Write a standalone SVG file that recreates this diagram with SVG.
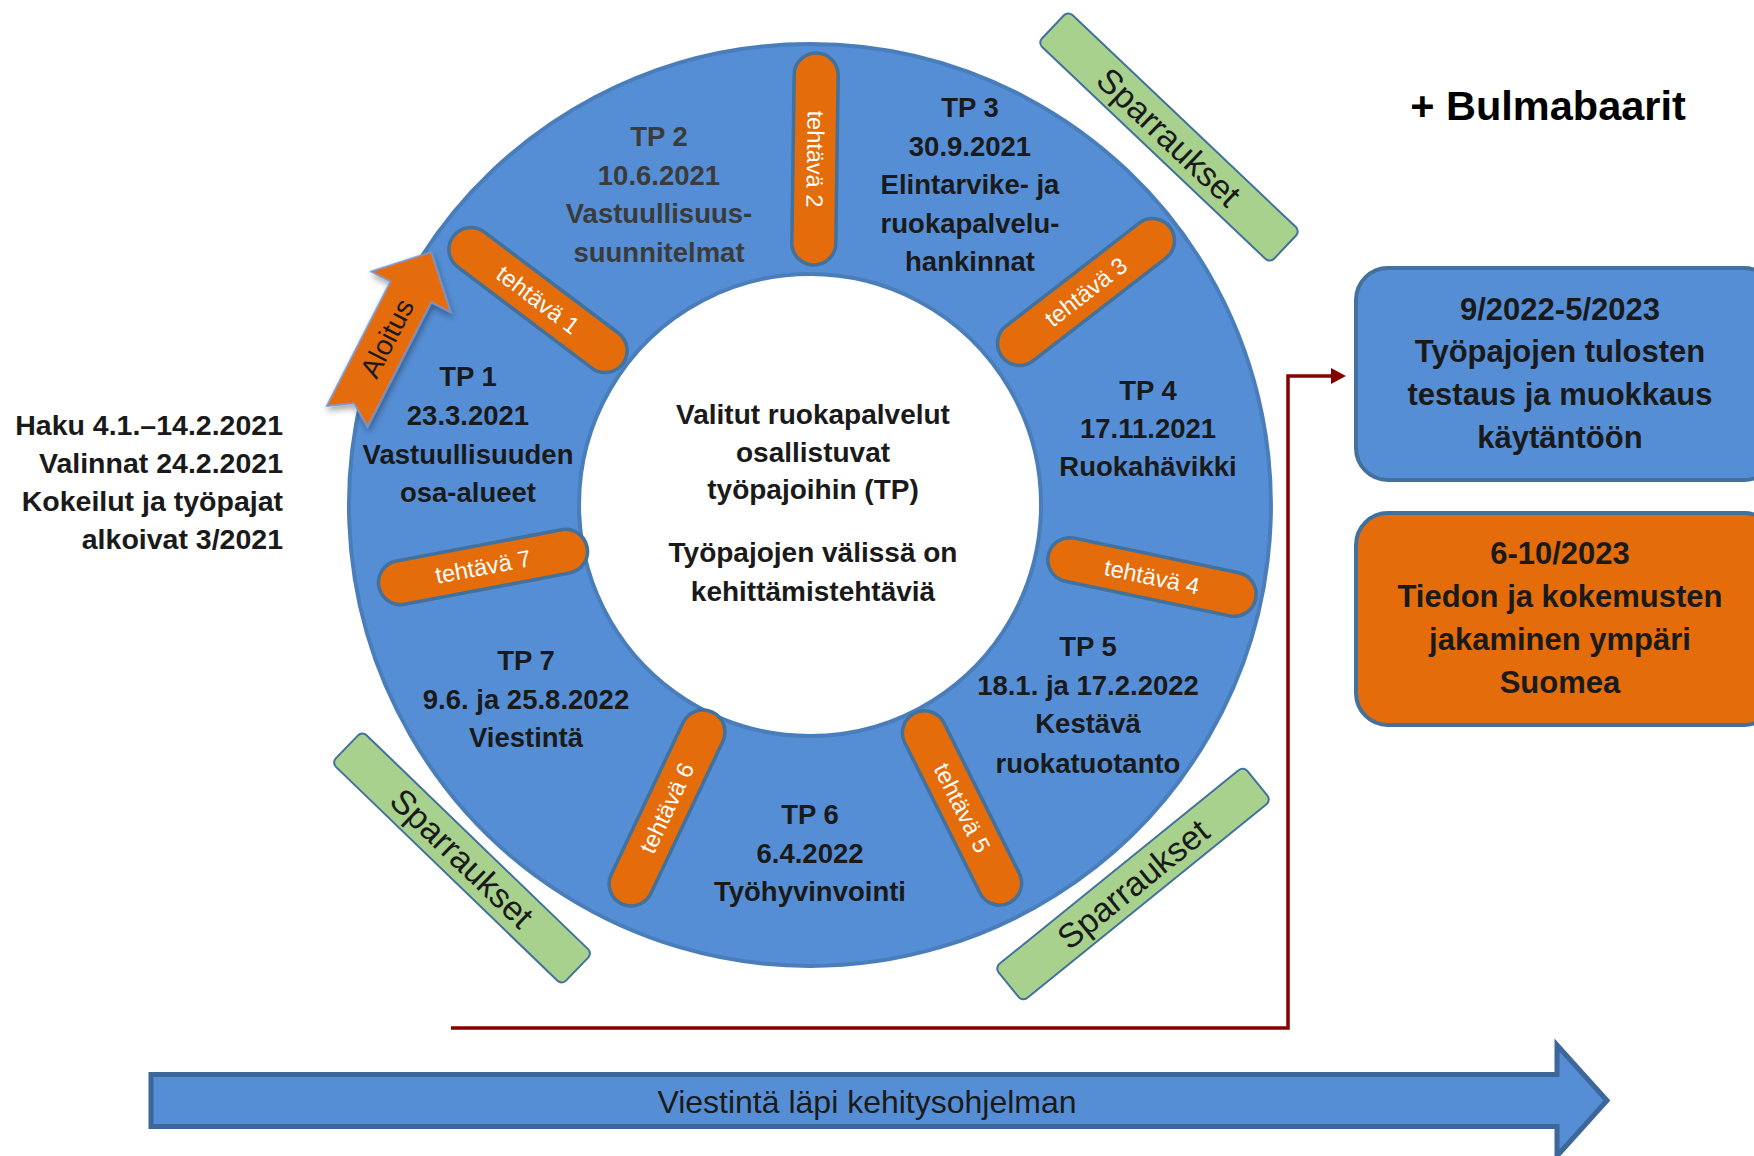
<svg xmlns="http://www.w3.org/2000/svg" width="1754" height="1156" viewBox="0 0 1754 1156">
<defs>
<style>
.t{font-family:"Liberation Sans",Arial,sans-serif;font-weight:bold;font-size:27.5px;fill:#1a1a1a;text-anchor:middle}
.pill rect{fill:#E46C0A;stroke:#41719C;stroke-width:3.5}
.pill text{font-family:"Liberation Sans",Arial,sans-serif;font-size:23.5px;fill:#ffffff;text-anchor:middle;dominant-baseline:central}
.spar rect{fill:#A9D18E;stroke:#41719C;stroke-width:2}
.spar text{font-family:"Liberation Sans",Arial,sans-serif;font-size:34px;fill:#1a1a1a;text-anchor:middle;dominant-baseline:central}
.box{stroke:#41719C;stroke-width:4}
</style>
<marker id="ah" markerUnits="userSpaceOnUse" markerWidth="16" markerHeight="16" viewBox="0 0 16 16" refX="1" refY="8" orient="auto">
<path d="M0,0 L15,8 L0,16 Z" fill="#860000"/>
</marker>
<filter id="sh" x="-30%" y="-30%" width="160%" height="160%">
<feDropShadow dx="-3" dy="3" stdDeviation="3" flood-color="#000" flood-opacity="0.35"/>
</filter>
</defs>
<rect width="1754" height="1156" fill="#ffffff"/>

<g id="connectors">
<path d="M451,1028 H1288 V376 H1332" fill="none" stroke="#860000" stroke-width="3.5" marker-end="url(#ah)"/>
</g>

<g id="bottom-arrow">
<path d="M151,1074.5 H1557 V1045 L1607,1100.5 L1557,1156 V1126.5 H151 Z" fill="#558ED5" stroke="#3D6699" stroke-width="5"/>
<text x="867" y="1113" style="font-family:'Liberation Sans',Arial,sans-serif;font-size:32px;fill:#1a1a1a;text-anchor:middle">Viestintä läpi kehitysohjelman</text>
</g>

<g id="ring">
<path d="M810,44 A461,461 0 1,1 809.9,44 Z M810,274 A231,231 0 1,0 810.1,274 Z" fill="#558ED5" fill-rule="evenodd" stroke="#4A7EBB" stroke-width="4"/>
</g>

<g id="aloitus" transform="translate(347.1,416.6) rotate(-62.9)">
<path d="M0,-23 L140,-23 L140,-45 L185,0 L140,45 L140,23 L0,23 L15,0 Z" fill="#E46C0A" stroke="#6A9BD8" stroke-width="1.5" filter="url(#sh)"/>
<text x="88" y="0" style="font-family:'Liberation Sans',Arial,sans-serif;font-size:28px;fill:#1a1a1a;text-anchor:middle;dominant-baseline:central">Aloitus</text>
</g>

<g id="tp1"><text class="t"><tspan x="468" y="386">TP 1</tspan><tspan x="468" y="425">23.3.2021</tspan><tspan x="468" y="464">Vastuullisuuden</tspan><tspan x="468" y="502">osa-alueet</tspan></text></g>
<g id="tp2"><text class="t" style="fill:#3b3b3b"><tspan x="659" y="146">TP 2</tspan><tspan x="659" y="185">10.6.2021</tspan><tspan x="659" y="223">Vastuullisuus-</tspan><tspan x="659" y="262">suunnitelmat</tspan></text></g>
<g id="tp3"><text class="t"><tspan x="970" y="117">TP 3</tspan><tspan x="970" y="156">30.9.2021</tspan><tspan x="970" y="194">Elintarvike- ja</tspan><tspan x="970" y="233">ruokapalvelu-</tspan><tspan x="970" y="271">hankinnat</tspan></text></g>
<g id="tp4"><text class="t"><tspan x="1148" y="400">TP 4</tspan><tspan x="1148" y="438">17.11.2021</tspan><tspan x="1148" y="476">Ruokahävikki</tspan></text></g>
<g id="tp5"><text class="t"><tspan x="1088" y="656">TP 5</tspan><tspan x="1088" y="695">18.1. ja 17.2.2022</tspan><tspan x="1088" y="733">Kestävä</tspan><tspan x="1088" y="773">ruokatuotanto</tspan></text></g>
<g id="tp6"><text class="t"><tspan x="810" y="824">TP 6</tspan><tspan x="810" y="863">6.4.2022</tspan><tspan x="810" y="901">Työhyvinvointi</tspan></text></g>
<g id="tp7"><text class="t"><tspan x="526" y="670">TP 7</tspan><tspan x="526" y="709">9.6. ja 25.8.2022</tspan><tspan x="526" y="747">Viestintä</tspan></text></g>

<g id="center"><text class="t" style="font-size:28px"><tspan x="813" y="424">Valitut ruokapalvelut</tspan><tspan x="813" y="462">osallistuvat</tspan><tspan x="813" y="499">työpajoihin (TP)</tspan><tspan x="813" y="562">Työpajojen välissä on</tspan><tspan x="813" y="601">kehittämistehtäviä</tspan></text></g>

<g id="tehtava1" class="pill" transform="translate(538,300) rotate(37)"><rect x="-106" y="-22" width="212" height="44" rx="22"/><text x="0" y="0">tehtävä 1</text></g>
<g id="tehtava2" class="pill" transform="translate(815,159) rotate(90.8)"><rect x="-106" y="-22" width="212" height="44" rx="22"/><text x="0" y="0">tehtävä 2</text></g>
<g id="tehtava3" class="pill" transform="translate(1086,292) rotate(-37.7)"><rect x="-106" y="-22" width="212" height="44" rx="22"/><text x="0" y="0">tehtävä 3</text></g>
<g id="tehtava4" class="pill" transform="translate(1152,577) rotate(11.9)"><rect x="-106" y="-22" width="212" height="44" rx="22"/><text x="0" y="0">tehtävä 4</text></g>
<g id="tehtava5" class="pill" transform="translate(962,808) rotate(63.4)"><rect x="-106" y="-22" width="212" height="44" rx="22"/><text x="0" y="0">tehtävä 5</text></g>
<g id="tehtava6" class="pill" transform="translate(667,808) rotate(-64.7)"><rect x="-106" y="-22" width="212" height="44" rx="22"/><text x="0" y="0">tehtävä 6</text></g>
<g id="tehtava7" class="pill" transform="translate(483,567) rotate(-10.7)"><rect x="-106" y="-22" width="212" height="44" rx="22"/><text x="0" y="0">tehtävä 7</text></g>

<g id="sparraukset1" class="spar" transform="translate(1169,137) rotate(43.5)"><rect x="-160" y="-22" width="320" height="44" rx="6"/><text x="0" y="0">Sparraukset</text></g>
<g id="sparraukset2" class="spar" transform="translate(462,858) rotate(44)"><rect x="-160" y="-22" width="320" height="44" rx="6"/><text x="0" y="0">Sparraukset</text></g>
<g id="sparraukset3" class="spar" transform="translate(1133,884) rotate(-39)"><rect x="-160" y="-22" width="320" height="44" rx="6"/><text x="0" y="0">Sparraukset</text></g>

<g id="haku"><text class="t" style="text-anchor:end;font-size:28.5px"><tspan x="283" y="435">Haku 4.1.–14.2.2021</tspan><tspan x="283" y="473">Valinnat 24.2.2021</tspan><tspan x="283" y="511">Kokeilut ja työpajat</tspan><tspan x="283" y="549">alkoivat 3/2021</tspan></text></g>

<g id="bulmabaarit"><text class="t" style="font-size:41.5px;fill:#000"><tspan x="1548" y="120">+ Bulmabaarit</tspan></text></g>

<g id="box-testaus">
<rect class="box" x="1356" y="268" width="420" height="212" rx="32" fill="#558ED5"/>
<text class="t" style="font-size:31px"><tspan x="1560" y="320">9/2022-5/2023</tspan><tspan x="1560" y="362">Työpajojen tulosten</tspan><tspan x="1560" y="405">testaus ja muokkaus</tspan><tspan x="1560" y="448">käytäntöön</tspan></text>
</g>
<g id="box-jakaminen">
<rect class="box" x="1356" y="513" width="420" height="212" rx="32" fill="#E46C0A"/>
<text class="t" style="font-size:31px"><tspan x="1560" y="564">6-10/2023</tspan><tspan x="1560" y="607">Tiedon ja kokemusten</tspan><tspan x="1560" y="650">jakaminen ympäri</tspan><tspan x="1560" y="693">Suomea</tspan></text>
</g>
</svg>
